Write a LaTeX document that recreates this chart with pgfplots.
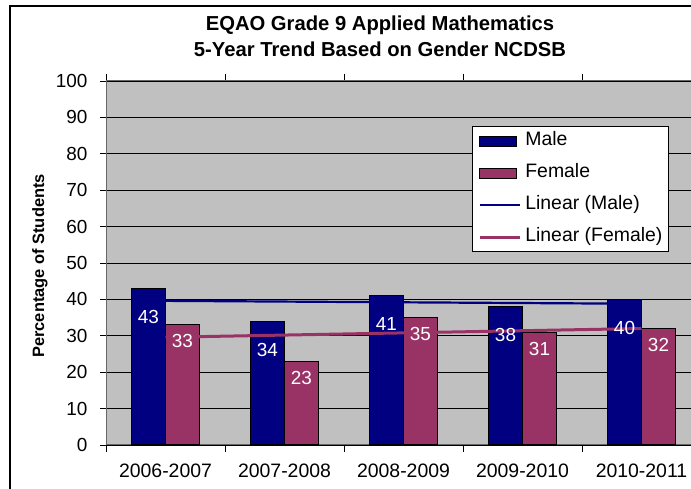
\documentclass[border=0pt]{standalone}
\usepackage{pgfplots}
\pgfplotsset{compat=1.18}
\usepackage{fontspec}
\setmainfont{Liberation Sans}
\definecolor{male}{HTML}{000080}
\definecolor{female}{HTML}{993366}
\definecolor{bg}{HTML}{C0C0C0}
\begin{document}
\begin{tikzpicture}
\draw[line width=1.3bp] (10bp,0bp) -- (10bp,483bp) -- (691bp,483bp);
\begin{axis}[
  at={(106bp,44bp)}, anchor=south west,
  scale only axis, width=595bp, height=364bp,
  xmin=-0.5, xmax=4.5, ymin=0, ymax=100,
  ytick={0,10,...,100},
  xtick={0,1,2,3,4},
  xticklabels={2006-2007,2007-2008,2008-2009,2009-2010,2010-2011},
  minor xtick={-0.5,0.5,1.5,2.5,3.5},
  major x tick style={draw=none},
  tick align=outside, major tick length=6bp, minor tick length=7bp,
  tick style={black, line width=0.8bp},
  ymajorgrids, major grid style={black, line width=0.8bp},
  axis background/.style={fill=bg},
  axis line style={black!60, line width=1bp},
  /pgf/number format/assume math mode=true,
  ticklabel style={font=\fontsize{19}{21}\selectfont},
  yticklabel style={xshift=-9bp},
  xticklabel style={yshift=-9bp, font=\fontsize{19.5}{21}\selectfont},
  ylabel={Percentage of Students},
  ylabel style={at={(axis description cs:-0.111,0.492)}, anchor=center, rotate=0, font=\bfseries\fontsize{16.5}{18}\selectfont},
  title={EQAO Grade 9 Applied Mathematics\\5-Year Trend Based on Gender NCDSB},
  title style={at={(axis description cs:0.4605,1.106)}, anchor=center, align=center, font=\bfseries\fontsize{20.3}{26}\selectfont},
  legend style={at={(axis description cs:0.615,0.876)}, anchor=north west,
    draw=black, line width=0.8bp, fill=white, inner xsep=6bp, inner ysep=6bp,
    font=\fontsize{19.5}{22}\selectfont, row sep=15bp, column sep=4bp,
    nodes={inner sep=0pt, text height=13bp, text depth=4bp, anchor=west}},
  legend cell align=left,
]
\addplot[ybar, bar width=34bp, bar shift=-17bp, fill=male, draw=black, line width=1.2bp,
  legend image code/.code={\draw[fill=male, draw=black, line width=1bp] (0bp,-5bp) rectangle (37bp,5bp);},
  nodes near coords, every node near coord/.append style={anchor=center, xshift=-17bp, yshift=-28.5bp, text=white, font=\fontsize{19}{21}\selectfont, line width=0pt}]
  coordinates {(0,43) (1,34) (2,41) (3,38) (4,40)};
\addlegendentry{Male}
\addplot[ybar, bar width=34bp, bar shift=17bp, fill=female, draw=black, line width=1.2bp,
  legend image code/.code={\draw[fill=female, draw=black, line width=1bp] (0bp,-5bp) rectangle (37bp,5bp);},
  nodes near coords, every node near coord/.append style={anchor=center, xshift=17bp, yshift=-16.5bp, text=white, font=\fontsize{19}{21}\selectfont, line width=0pt}]
  coordinates {(0,33) (1,23) (2,35) (3,31) (4,32)};
\addlegendentry{Female}
\addplot[male, line width=2.2bp, no markers,
  legend image code/.code={\draw[male, line width=2.2bp] (0bp,0bp) -- (40bp,0bp);}]
  coordinates {(0,39.6) (4,38.8)};
\addlegendentry{Linear (Male)}
\addplot[female, line width=3bp, no markers,
  legend image code/.code={\draw[female, line width=3bp] (0bp,0bp) -- (40bp,0bp);}]
  coordinates {(0,29.6) (4,32.0)};
\addlegendentry{Linear (Female)}
\end{axis}
\pgfresetboundingbox
\path[use as bounding box] (0bp,0bp) rectangle (691bp,489bp);
\end{tikzpicture}
\end{document}
